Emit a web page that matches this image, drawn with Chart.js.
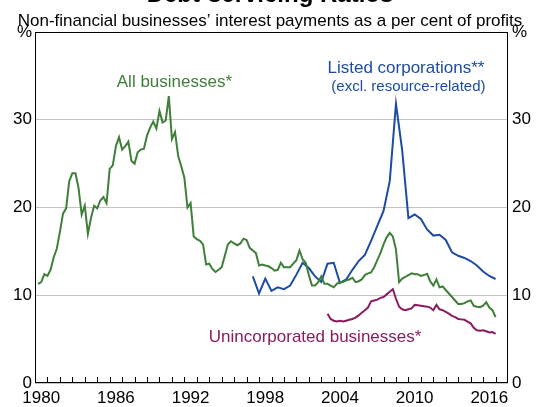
<!DOCTYPE html>
<html lang="en">
<head>
<meta charset="UTF-8">
<title>Debt-servicing Ratios</title>
<script src="https://cdn.jsdelivr.net/npm/chart.js@4"></script>
<style>
  html, body { margin: 0; padding: 0; background: #fff; }
</style>
</head>
<body>
<canvas id="chart" width="547" height="407"></canvas>
<script>
// quarterly, first point 1980 Q1 (plotted at quarter end)
const allStart = 1980.25;
const allBusinesses = [
  11.3, 11.5, 12.4, 12.2,  12.9, 14.3, 15.3, 17.2,  19.3, 19.9, 23.0, 23.9,
  23.9, 22.2, 19.2, 20.2,  17.0, 18.8, 20.2, 19.9,  20.8, 21.2, 20.5, 24.4,
  24.8, 27.0, 28.0, 26.6,  27.0, 27.5, 25.3, 25.0,  26.3, 26.6, 26.7, 28.2,
  29.1, 29.8, 29.0, 31.0,  29.7, 29.9, 32.7, 27.8,  28.6, 25.9, 24.7, 23.4,
  20.0, 20.5, 16.7, 16.4,  16.2, 15.8, 13.5, 13.6,  13.0, 12.65, 12.9, 13.2,
  14.5, 15.8, 16.15, 15.9, 15.7, 15.9, 16.45, 16.3, 15.4, 15.1, 14.8, 13.4,
  13.5, 13.4, 13.3, 13.1,  12.8, 12.9, 13.7, 13.2,  13.2, 13.2, 13.6, 14.0,
  15.1, 14.1, 13.7, 12.3,  11.1, 11.1, 11.5, 12.15, 11.3, 11.3, 11.1, 10.9,
  11.3, 11.5, 11.5, 11.7,  11.8, 12.0, 11.5, 11.6,  11.8, 12.3, 12.5, 12.6,
  13.2, 14.0, 14.8, 15.8,  16.6, 17.1, 16.7, 15.2,  11.5, 11.9, 12.1, 12.3,
  12.5, 12.4, 12.4, 12.2,  12.3, 12.45, 11.6, 11.1, 11.8, 10.9, 11.0, 10.6,
  10.2, 9.8, 9.4, 9.0,     9.0, 9.1, 9.3, 9.4,      8.8, 8.7, 8.65, 8.8,
  9.2, 8.6, 8.3, 7.5
];

// half-yearly from mid 1997
const listedStart = 1997.5;
const listedCorporations = [
  12.15, 10.2, 11.9, 10.5, 10.9, 10.7, 11.1, 12.35, 13.7, 13.1,
  12.15, 11.5, 13.6, 13.7, 11.4, 11.8, 12.9, 13.9, 14.6, 16.2,
  17.9, 19.6, 23.0, 31.8, 26.5, 18.8, 19.2, 18.7, 17.5, 16.8,
  16.9, 16.3, 14.9, 14.5, 14.25, 13.9, 13.4, 12.7, 12.2, 11.85
];

// quarterly from mid 2003
const unincStart = 2003.5;
const unincorporated = [
  7.9, 7.3, 7.1,
  7.0, 7.1, 7.0, 7.1,   7.2, 7.3, 7.45, 7.7,   8.0, 8.3, 8.6, 9.3,
  9.4, 9.5, 9.7, 9.8,   10.1, 10.4, 10.7, 9.6, 8.7, 8.4, 8.3, 8.4,
  8.5, 8.9, 8.85, 8.8,  8.75, 8.7, 8.6, 8.3,   8.9, 8.4, 8.3, 8.1,
  7.9, 7.65, 7.5, 7.3,  7.25, 7.2, 7.0, 6.8,   6.3, 6.0, 5.95, 6.0,
  5.9, 5.75, 5.8, 5.6
];

const yearLabels = [1980, 1986, 1992, 1998, 2004, 2010, 2016];
const yTicks = [0, 10, 20, 30, 40];

const green = '#3f7f39';
const blue = '#1d4ca3';
const purple = '#8a1c60';
const font = '"Liberation Sans", Arial, sans-serif';

function toPoints(start, step, values) {
  return values.map((v, i) => ({ x: start + i * step, y: v }));
}

const seriesLabels = [
  { text: 'All businesses*', x: 1991.2, y: 34.3, color: green, size: 17 },
  { text: 'Listed corporations**', x: 2009.8, y: 35.9, color: blue, size: 17 },
  { text: '(excl. resource-related)', x: 2010.0, y: 33.7, color: blue, size: 15 },
  { text: 'Unincorporated businesses*', x: 2002.5, y: 5.15, color: purple, size: 17 }
];

const decorations = {
  id: 'decorations',
  afterDatasetsDraw(chart) {
    const { ctx, chartArea: a, scales } = chart;
    ctx.save();
    // year tick marks pointing into the plot
    ctx.strokeStyle = '#000';
    ctx.lineWidth = 1;
    ctx.beginPath();
    for (let yr = scales.x.min + 1; yr < scales.x.max; yr++) {
      const px = Math.round(scales.x.getPixelForValue(yr)) + 0.5;
      ctx.moveTo(px, a.bottom);
      ctx.lineTo(px, a.bottom - 6);
    }
    ctx.stroke();
    // frame
    ctx.strokeRect(a.left + 0.5, a.top + 0.5, a.right - a.left - 1, a.bottom - a.top - 1);

    // series labels
    ctx.textAlign = 'center';
    ctx.textBaseline = 'middle';
    seriesLabels.forEach(l => {
      ctx.font = l.size + 'px ' + font;
      ctx.fillStyle = l.color;
      ctx.fillText(l.text, scales.x.getPixelForValue(l.x), scales.y.getPixelForValue(l.y));
    });

    // title and subtitle (title is cut by the top edge)
    ctx.fillStyle = '#000';
    ctx.textBaseline = 'alphabetic';
    ctx.font = 'bold 24px ' + font;
    ctx.fillText('Debt-servicing Ratios', 270, 2);
    ctx.font = '17px ' + font;
    ctx.fillText('Non-financial businesses\u2019 interest payments as a per cent of profits', 270, 26);
    ctx.restore();
  }
};

const yAxis = (position, width, padding, grid) => ({
  type: 'linear',
  position: position,
  min: 0,
  max: 40,
  afterFit: s => { s.width = width; },
  afterBuildTicks: s => { s.ticks = yTicks.map(v => ({ value: v })); },
  border: { display: false },
  grid: { display: grid, color: '#c4c4c4', lineWidth: 1, drawTicks: false },
  ticks: {
    padding: padding,
    color: '#000',
    font: { family: font, size: 17 },
    callback: v => (v === 40 ? '%' : v)
  }
});

new Chart(document.getElementById('chart'), {
  type: 'line',
  data: {
    datasets: [
      { label: 'All businesses*', data: toPoints(allStart, 0.25, allBusinesses), borderColor: green },
      { label: 'Listed corporations**', data: toPoints(listedStart, 0.5, listedCorporations), borderColor: blue },
      { label: 'Unincorporated businesses*', data: toPoints(unincStart, 0.25, unincorporated), borderColor: purple }
    ]
  },
  options: {
    responsive: false,
    animation: false,
    devicePixelRatio: 1,
    layout: { padding: { top: 32, left: 0, right: 0, bottom: 0 } },
    elements: {
      line: { borderWidth: 2, tension: 0, fill: false },
      point: { radius: 0 }
    },
    plugins: {
      legend: { display: false },
      tooltip: { enabled: false }
    },
    scales: {
      x: {
        type: 'linear',
        min: 1980,
        max: 2018,
        afterFit: s => { s.height = 24; },
        afterBuildTicks: s => { s.ticks = yearLabels.map(v => ({ value: v + 0.5 })); },
        border: { display: false },
        grid: { display: false, drawTicks: false },
        ticks: {
          padding: 5,
          color: '#000',
          maxRotation: 0,
          autoSkip: false,
          font: { family: font, size: 17 },
          callback: v => String(Math.floor(v))
        }
      },
      y: yAxis('left', 35, 3, true),
      y2: yAxis('right', 39, 4, false)
    }
  },
  plugins: [decorations]
});
</script>
</body>
</html>
